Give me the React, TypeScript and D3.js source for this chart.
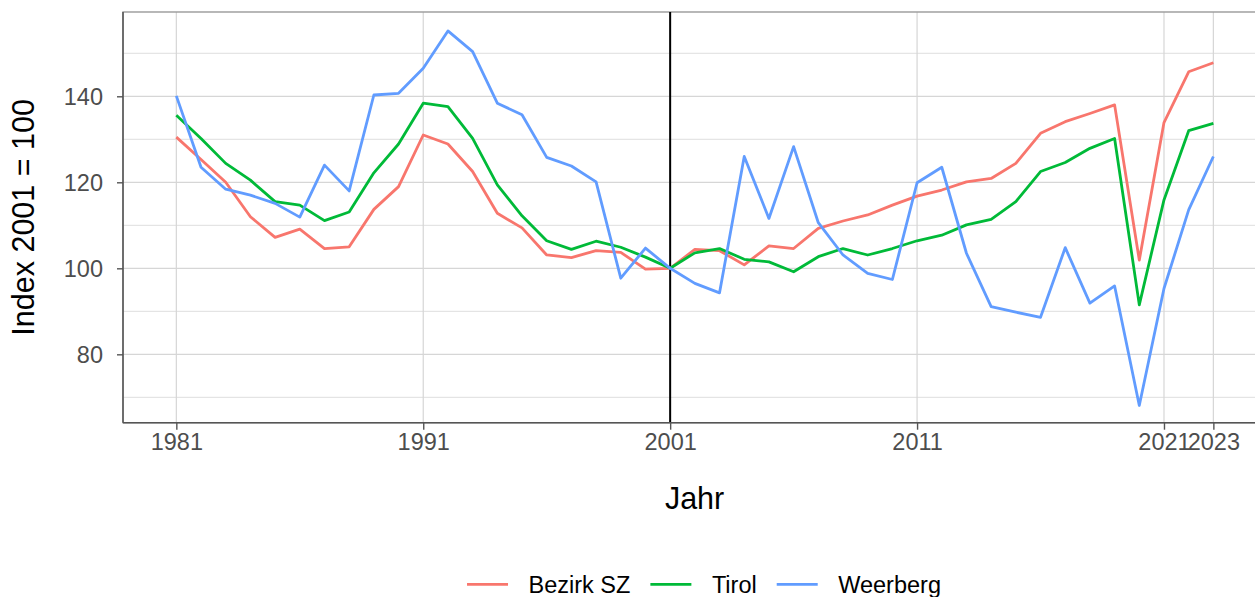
import React, { useEffect, useRef } from 'react';
import * as d3 from 'd3';

const years = [
  1981, 1982, 1983, 1984, 1985, 1986, 1987, 1988, 1989, 1990,
  1991, 1992, 1993, 1994, 1995, 1996, 1997, 1998, 1999, 2000,
  2001, 2002, 2003, 2004, 2005, 2006, 2007, 2008, 2009, 2010,
  2011, 2012, 2013, 2014, 2015, 2016, 2017, 2018, 2019, 2020,
  2021, 2022, 2023,
];

const bezirkSZ = [
  130.5, 125.3, 120.0, 112.0, 107.2, 109.1, 104.6, 105.0, 113.7, 119.0,
  131.0, 128.9, 122.5, 112.8, 109.4, 103.1, 102.5, 104.1, 103.7, 99.8,
  100.0, 104.4, 104.1, 100.8, 105.2, 104.6, 109.3, 111.0, 112.4, 114.7,
  116.8, 118.2, 120.1, 120.9, 124.4, 131.4, 134.1, 136.0, 138.0, 101.9,
  133.9, 145.7, 147.8,
];

const tirol = [
  135.6, 130.2, 124.4, 120.5, 115.5, 114.7, 111.1, 113.1, 122.2, 128.9,
  138.4, 137.6, 130.2, 119.4, 112.2, 106.4, 104.4, 106.3, 104.9, 102.6,
  100.0, 103.6, 104.6, 102.1, 101.5, 99.2, 102.7, 104.6, 103.1, 104.6,
  106.4, 107.7, 110.1, 111.4, 115.5, 122.5, 124.6, 127.9, 130.2, 91.5,
  115.9, 132.0, 133.7,
];

const weerberg = [
  140.1, 123.5, 118.4, 117.0, 115.1, 111.9, 124.0, 118.0, 140.3, 140.7,
  146.5, 155.2, 150.4, 138.4, 135.7, 125.8, 123.8, 120.1, 97.7, 104.7,
  100.0, 96.5, 94.3, 126.0, 111.6, 128.3, 110.6, 103.1, 98.8, 97.4,
  119.9, 123.5, 103.5, 91.1, 89.8, 88.6, 104.8, 91.9, 95.9, 68.1,
  95.3, 113.6, 126.0,
];

const seriesNames = ['Bezirk SZ', 'Tirol', 'Weerberg'];
const seriesColors = ['#F8766D', '#00BA38', '#619CFF'];
const xTicks = [1981, 1991, 2001, 2011, 2021, 2023];
const yTicks = [80, 100, 120, 140];
const yMinor = [70, 90, 110, 130, 150];
const refYear = 2001;

const FONT = '"Liberation Sans", Arial, sans-serif';

const App = () => {
  const svgRef = useRef<SVGSVGElement>(null);

  useEffect(() => {
    const width = 1255;
    const height = 597;
    const left = 123, top = 12, bottom = 422.7, right = 1266.7;

    const svg = d3.select(svgRef.current);
    svg.selectAll('*').remove();
    svg.attr('width', width).attr('height', height);

    const x = d3.scaleLinear().domain([1978.84, 2025.16]).range([left, right]);
    const y = d3.scaleLinear().domain([64.1, 159.6]).range([bottom, top]);

    const grid = svg.append('g');
    grid.selectAll('.minor')
      .data(yMinor)
      .enter()
      .append('line')
      .attr('x1', left).attr('x2', right)
      .attr('y1', d => y(d)).attr('y2', d => y(d))
      .attr('stroke', '#dedede').attr('stroke-width', 1);
    grid.selectAll('.majory')
      .data(yTicks)
      .enter()
      .append('line')
      .attr('x1', left).attr('x2', right)
      .attr('y1', d => y(d)).attr('y2', d => y(d))
      .attr('stroke', '#d6d6d6').attr('stroke-width', 1.2);
    grid.selectAll('.majorx')
      .data(xTicks)
      .enter()
      .append('line')
      .attr('y1', top).attr('y2', bottom)
      .attr('x1', d => x(d)).attr('x2', d => x(d))
      .attr('stroke', '#d6d6d6').attr('stroke-width', 1.2);

    // panel border
    svg.append('rect')
      .attr('x', left).attr('y', top)
      .attr('width', right - left).attr('height', bottom - top)
      .attr('fill', 'none').attr('stroke', '#9a9a9a').attr('stroke-width', 1.4);

    // reference line at 2001
    svg.append('line')
      .attr('x1', x(refYear)).attr('x2', x(refYear))
      .attr('y1', top).attr('y2', bottom)
      .attr('stroke', '#000').attr('stroke-width', 2);

    const allSeries = [bezirkSZ, tirol, weerberg];
    const line = d3.line<number>()
      .x((d, i) => x(years[i]))
      .y(d => y(d));

    svg.append('g')
      .selectAll('path')
      .data(allSeries)
      .enter()
      .append('path')
      .attr('d', d => line(d))
      .attr('fill', 'none')
      .attr('stroke', (d, i) => seriesColors[i])
      .attr('stroke-width', 2.8)
      .attr('stroke-linejoin', 'round');

    // axes
    const xAxis = svg.append('g')
      .attr('transform', `translate(0, ${bottom})`)
      .call(d3.axisBottom(x).tickValues(xTicks).tickFormat(d3.format('d')).tickSize(7).tickPadding(4));
    const yAxis = svg.append('g')
      .attr('transform', `translate(${left}, 0)`)
      .call(d3.axisLeft(y).tickValues(yTicks).tickSize(6).tickPadding(14));

    [xAxis, yAxis].forEach(g => {
      g.select('.domain').remove();
      g.selectAll('.tick line').attr('stroke', '#555').attr('stroke-width', 1.4);
      g.selectAll('.tick text')
        .attr('fill', '#4d4d4d')
        .style('font-family', FONT)
        .style('font-size', '23.5px');
    });
    yAxis.selectAll('.tick text').attr('dy', '0.36em');

    svg.append('line')
      .attr('x1', left).attr('x2', left).attr('y1', top).attr('y2', bottom)
      .attr('stroke', '#555').attr('stroke-width', 1.5);
    svg.append('line')
      .attr('x1', left).attr('x2', right).attr('y1', bottom).attr('y2', bottom)
      .attr('stroke', '#555').attr('stroke-width', 1.5);

    // titles
    svg.append('text')
      .attr('x', (left + right) / 2 - 0.3).attr('y', 509)
      .attr('text-anchor', 'middle')
      .style('font-family', FONT).style('font-size', '30.5px')
      .attr('fill', '#000')
      .text('Jahr');
    svg.append('text')
      .attr('transform', `translate(34, ${(top + bottom) / 2}) rotate(-90)`)
      .attr('text-anchor', 'middle')
      .style('font-family', FONT).style('font-size', '30.5px')
      .attr('fill', '#000')
      .text('Index 2001 = 100');

    // legend
    const legend = svg.append('g');
    const keyW = 41, keyGap = 20.5, itemGap = 20;
    const items = seriesNames.map((name, i) => {
      const g = legend.append('g');
      g.append('line')
        .attr('x1', 0).attr('x2', keyW)
        .attr('y1', 584.3).attr('y2', 584.3)
        .attr('stroke', seriesColors[i]).attr('stroke-width', 2.8);
      const t = g.append('text')
        .attr('x', keyW + keyGap).attr('y', 593)
        .style('font-family', FONT).style('font-size', '23.5px')
        .attr('fill', '#000')
        .text(name);
      const w = (t.node() as SVGTextElement).getComputedTextLength();
      return { g, w: keyW + keyGap + w };
    });
    const total = d3.sum(items, d => d.w) + itemGap * (items.length - 1);
    let cx = 704 - total / 2;
    items.forEach(it => {
      it.g.attr('transform', `translate(${cx}, 0)`);
      cx += it.w + itemGap;
    });
  }, []);

  return (
    <div style={{ position: 'absolute', left: 0, top: 0, background: '#fff' }}>
      <svg ref={svgRef} style={{ display: 'block' }}></svg>
    </div>
  );
};

export default App;
